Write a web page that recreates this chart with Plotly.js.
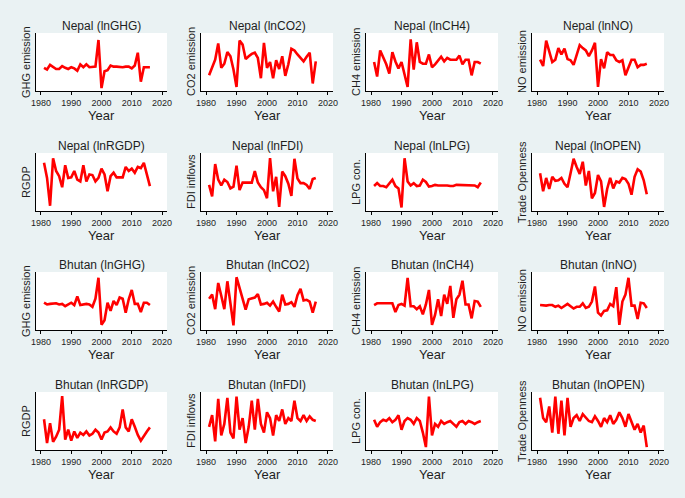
<!DOCTYPE html>
<html><head><meta charset="utf-8">
<script src="https://cdn.plot.ly/plotly-3.0.1.min.js"></script>
<style>html,body{margin:0;padding:0;background:#eaf2f3;}#chart{width:685px;height:498px;}</style>
</head><body><div id="chart"></div>
<script>
// Years of observation
const years = [1981,1982,1983,1984,1985,1986,1987,1988,1989,1990,1991,1992,1993,1994,1995,1996,1997,1998,1999,2000,2001,2002,2003,2004,2005,2006,2007,2008,2009,2010,2011,2012,2013,2014,2015,2016];
const xTicks = [1980,1990,2000,2010,2020];

// Values, on a relative scale (0 = bottom of panel, 100 = top); no y labels are shown
const nepalGHG  = [40,37,45,42,38,38,43,40,38,41,39,35,46,41,46,41,41,42,88,5,34,36,44,42,42,41,41,42,42,39,44,66,16,41,41,41];
const nepalCO2  = [27,40,54,82,40,47,67,60,37,7,87,80,55,60,64,66,57,22,83,40,50,22,53,38,60,26,46,73,70,63,57,51,59,66,13,51];
const nepalCH4  = [50,25,70,59,46,30,67,51,39,50,30,7,89,37,84,50,47,47,63,41,46,53,59,51,57,54,54,54,61,46,54,54,27,50,50,47];
const nepalNO   = [54,43,87,67,50,54,74,63,73,55,53,45,61,79,74,70,60,70,83,7,55,39,67,62,62,53,50,53,27,40,54,54,41,45,45,47];
const nepalRGDP = [83,57,9,91,69,60,41,79,57,58,69,54,51,79,51,63,62,51,57,73,63,34,60,66,58,58,58,76,69,73,66,76,74,83,63,43];
const nepalFDI  = [45,25,81,54,44,54,50,39,42,78,36,49,49,49,49,69,49,41,36,22,91,34,59,7,68,60,47,26,90,56,48,48,45,38,55,57];
const nepalLPG  = [43,48,43,43,41,48,54,43,39,6,91,51,44,48,43,44,54,50,42,43,45,44,44,45,44,43,43,45,45,44,44,44,44,44,41,49];
const nepalOPEN = [65,34,57,38,59,52,53,57,47,41,65,90,76,64,85,44,69,22,31,62,51,7,38,57,39,51,49,57,55,47,28,59,72,68,53,29];
const bhutanGHG  = [47,44,45,45,46,44,45,41,44,47,43,58,43,44,45,44,40,54,90,9,17,47,33,50,43,56,54,30,53,69,45,45,31,47,47,43];
const bhutanCO2  = [54,61,36,81,59,36,84,48,8,91,71,55,35,53,54,56,62,44,45,47,42,49,40,32,61,44,45,48,40,60,71,51,52,49,30,49];
const bhutanCH4  = [43,46,46,46,47,46,46,31,43,45,42,90,41,41,36,41,27,44,69,9,26,53,24,61,45,76,21,53,61,85,44,44,20,50,49,40];
const bhutanNO   = [43,42,42,43,43,40,42,38,42,45,41,37,40,40,46,38,40,49,75,30,25,33,34,45,41,74,9,49,61,90,42,42,19,47,46,38];
const bhutanRGDP = [53,12,46,14,23,35,93,18,35,16,32,21,30,26,32,25,28,35,30,18,30,32,39,32,28,39,70,39,32,53,40,26,16,25,32,39];
const bhutanFDI  = [40,60,15,88,25,45,90,30,20,92,35,55,12,40,85,35,88,45,30,65,55,25,60,50,70,45,55,50,85,55,50,60,50,58,52,50];
const bhutanLPG  = [52,40,48,52,50,55,48,52,60,35,50,55,52,45,55,50,30,5,92,25,45,40,50,45,48,50,45,40,48,50,45,50,48,45,48,50];
const bhutanOPEN = [90,55,48,75,30,92,28,85,25,90,40,55,60,50,62,55,50,48,58,50,40,55,48,60,45,52,65,55,40,62,50,35,45,30,42,5];

const panelTitles = ["Nepal (lnGHG)","Nepal (lnCO2)","Nepal (lnCH4)","Nepal (lnNO)",
  "Nepal (lnRGDP)","Nepal (lnFDI)","Nepal (lnLPG)","Nepal (lnOPEN)",
  "Bhutan (lnGHG)","Bhutan (lnCO2)","Bhutan (lnCH4)","Bhutan (lnNO)",
  "Bhutan (lnRGDP)","Bhutan (lnFDI)","Bhutan (lnLPG)","Bhutan (lnOPEN)"];
const yLabels = ["GHG emission","CO2 emission","CH4 emission","NO emission",
  "RGDP","FDI inflows","LPG con.","Trade Openness",
  "GHG emission","CO2 emission","CH4 emission","NO emission",
  "RGDP","FDI inflows","LPG con.","Trade Openness"];
const xLabel = "Year";

const series = [nepalGHG,nepalCO2,nepalCH4,nepalNO,nepalRGDP,nepalFDI,nepalLPG,nepalOPEN,
  bhutanGHG,bhutanCO2,bhutanCH4,bhutanNO,bhutanRGDP,bhutanFDI,bhutanLPG,bhutanOPEN];

const W = 685, H = 498;
const colX = [[36,167],[201,333],[366,498],[532,664]];
const rowY = [[33,91],[153,211],[272,330],[392,450]];
const FONT = "Liberation Sans, Arial, sans-serif";
const TXT = "#1e1e1e";

const data = [];
const layout = {
  width: W, height: H,
  margin: {l:0,r:0,t:0,b:0},
  paper_bgcolor: "#eaf2f3",
  plot_bgcolor: "#ffffff",
  showlegend: false,
  font: {family: FONT, color: TXT},
  annotations: []
};

series.forEach((vals, i) => {
  const r = Math.floor(i/4), c = i%4;
  const n = i+1;
  const xa = n===1 ? "xaxis" : "xaxis"+n;
  const ya = n===1 ? "yaxis" : "yaxis"+n;
  const xr = n===1 ? "x" : "x"+n;
  const yr = n===1 ? "y" : "y"+n;
  data.push({x: years, y: vals, xaxis: xr, yaxis: yr, type: "scatter", mode: "lines",
    line: {color: "#ff0000", width: 2.6}, hoverinfo: "skip"});
  const [x0,x1] = colX[c], [y0,y1] = rowY[r];
  layout[xa] = {
    domain: [x0/W, x1/W], anchor: yr, range: [1978.35, 2021.65],
    tickvals: xTicks, ticktext: xTicks.map(String), ticks: "outside", ticklen: 3, tickwidth: 1,
    tickcolor: "#000", showline: true, linecolor: "#000", linewidth: 1, showgrid: false, zeroline: false,
    tickfont: {size: 9, color: TXT, family: FONT}, fixedrange: true
  };
  layout[ya] = {
    domain: [1-y1/H, 1-y0/H], anchor: xr, range: [0,100],
    showticklabels: false, ticks: "", showline: true, linecolor: "#000", linewidth: 1,
    showgrid: false, zeroline: false, fixedrange: true
  };
  layout.annotations.push({text: panelTitles[i], xref: "paper", yref: "paper",
    x: (x0+x1)/2/W, y: 1-(y0-7)/H, xanchor: "center", yanchor: "middle", showarrow: false,
    font: {size: 12, color: TXT, family: FONT}});
  layout.annotations.push({text: yLabels[i], xref: "paper", yref: "paper",
    x: (x0-10)/W, y: 1-(y0+y1)/2/H, xanchor: "center", yanchor: "middle", textangle: -90, showarrow: false,
    font: {size: 11, color: TXT, family: FONT}});
  layout.annotations.push({text: xLabel, xref: "paper", yref: "paper",
    x: (x0+x1)/2/W, y: 1-(y1+15)/H, xanchor: "center", yanchor: "top", showarrow: false,
    font: {size: 13, color: TXT, family: FONT}});
});

Plotly.newPlot("chart", data, layout, {displayModeBar: false, staticPlot: true});
</script></body></html>
